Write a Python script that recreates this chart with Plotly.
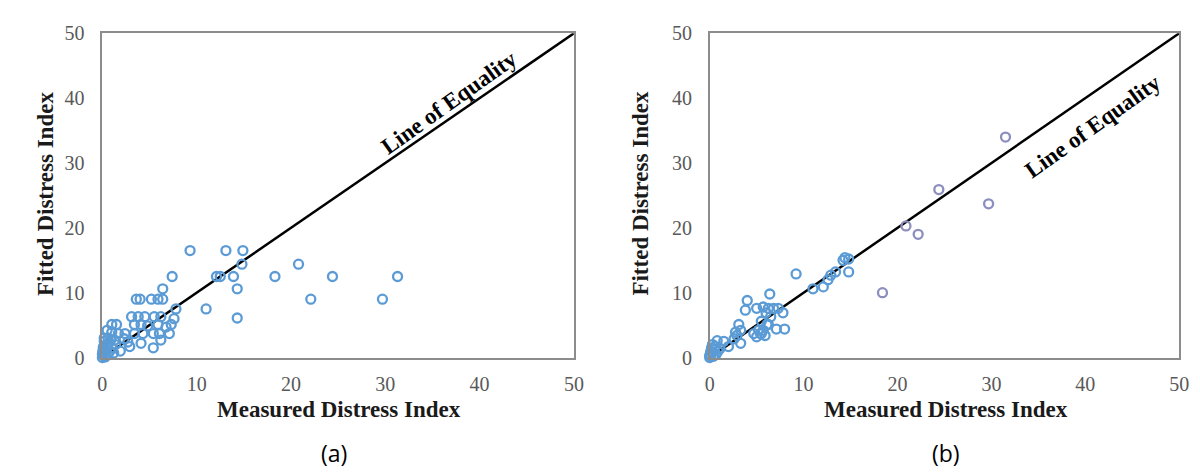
import plotly.graph_objects as go

# ---------------- data ----------------
# Panel (a)
a_measured = [9.3, 13.1, 14.9, 14.8, 20.8,
              7.4, 12.1, 12.5, 13.9, 18.3, 24.4, 31.3,
              14.3, 6.4, 22.1, 29.7, 11.0, 14.3,
              3.6, 4.0, 5.2, 5.9, 6.4, 7.8, 7.6,
              3.1, 3.8, 4.5, 5.5, 6.2,
              3.4, 4.1, 4.8, 5.9, 6.75, 7.3,
              2.4, 3.4, 4.3, 5.4, 6.05, 7.1,
              2.9, 4.1, 5.4, 6.2, 1.9,
              1.0, 1.5, 0.5, 1.0, 1.7, 0.6, 1.3, 2.3, 2.7,
              0.0, 0.1, 0.2, 0.3, 0.1, 0.4, 0.2, 0.6, 0.8, 1.0,
              0.5, 0.7, 1.2, 0.3, 0.0, 0.05, 1.4, 0.9, 0.2]
a_fitted = [16.5, 16.5, 16.5, 14.4, 14.4,
            12.5, 12.5, 12.5, 12.5, 12.5, 12.5, 12.5,
            10.6, 10.6, 9.0, 9.0, 7.5, 6.1,
            9.0, 9.0, 9.0, 9.0, 9.0, 7.5, 6.0,
            6.3, 6.3, 6.3, 6.3, 6.3,
            5.1, 5.1, 4.9, 5.1, 4.7, 5.1,
            3.7, 3.7, 3.7, 3.7, 3.7, 3.7,
            1.7, 2.2, 1.5, 2.7, 1.0,
            5.1, 5.1, 4.2, 3.9, 3.7, 3.0, 2.7, 2.9, 2.4,
            0.0, 0.3, 0.8, 1.2, 1.6, 2.0, 2.5, 0.5, 1.0, 1.5,
            1.8, 2.3, 0.7, 0.1, 0.5, 1.0, 2.0, 2.8, 3.0]

# Panel (b)
b_measured = [14.4, 14.8, 14.2, 14.8, 13.4, 12.9, 12.6, 12.1, 11.0,
              9.2, 6.4, 4.0, 3.8,
              5.0, 5.7, 6.25, 6.8, 7.3, 7.8, 6.0, 6.5,
              5.5, 6.1, 7.1, 7.98,
              3.1, 3.3, 2.9, 2.75, 2.6,
              4.7, 5.0, 5.4, 5.7, 5.2, 5.5, 5.9, 6.25,
              3.3, 0.8, 1.5, 0.3, 2.0,
              0.0, 0.1, 0.3, 0.5, 0.2, 0.7, 0.9, 0.4, 0.1, 1.1, 0.6, 0.0]
b_fitted = [15.4, 15.2, 15.0, 13.2, 13.2, 12.7, 12.0, 10.9, 10.6,
            12.9, 9.8, 8.8, 7.3,
            7.6, 7.8, 7.6, 7.6, 7.6, 6.9, 6.9, 6.3,
            5.6, 5.1, 4.4, 4.4,
            5.1, 4.2, 3.4, 3.9, 2.9,
            3.7, 3.2, 3.7, 4.2, 4.2, 3.7, 3.4, 5.1,
            2.2, 2.6, 2.5, 2.0, 1.7,
            0.0, 0.4, 0.8, 1.2, 1.5, 0.5, 1.0, 0.2, 0.9, 1.4, 1.7, 0.3]
b_out_measured = [31.5, 24.4, 29.7, 20.9, 22.2, 18.4]
b_out_fitted = [34.0, 25.9, 23.7, 20.3, 19.0, 10.0]

equality = [0, 50]
tick_vals = [0, 10, 20, 30, 40, 50]
tick_text = ["0", "10", "20", "30", "40", "50"]

x_title = "Measured Distress Index"
y_title = "Fitted Distress Index"
eq_label = "Line of Equality"
panel_labels = ["(a)", "(b)"]

# ---------------- figure ----------------
BLUE = "#5B9BD5"
GRAYBLUE = "#8C8EBE"
SERIF = "Liberation Serif, Times New Roman, serif"

fig = go.Figure()

def open_marker(color):
    return dict(symbol="circle-open", size=9, color=color, line=dict(width=2.3, color=color))

fig.add_trace(go.Scatter(x=equality, y=equality, mode="lines",
                         line=dict(color="black", width=2.5),
                         xaxis="x", yaxis="y", showlegend=False, hoverinfo="skip"))
fig.add_trace(go.Scatter(x=a_measured, y=a_fitted, mode="markers",
                         marker=open_marker(BLUE), cliponaxis=False,
                         xaxis="x", yaxis="y", showlegend=False))

fig.add_trace(go.Scatter(x=equality, y=equality, mode="lines",
                         line=dict(color="black", width=2.5),
                         xaxis="x2", yaxis="y2", showlegend=False, hoverinfo="skip"))
fig.add_trace(go.Scatter(x=b_measured, y=b_fitted, mode="markers",
                         marker=open_marker(BLUE), cliponaxis=False,
                         xaxis="x2", yaxis="y2", showlegend=False))
fig.add_trace(go.Scatter(x=b_out_measured, y=b_out_fitted, mode="markers",
                         marker=open_marker(GRAYBLUE), cliponaxis=False,
                         xaxis="x2", yaxis="y2", showlegend=False))

W, H = 1200, 475
ydom = [(H - 355) / H, (H - 15) / H]

axis_common = dict(range=[0, 50], tickvals=tick_vals, ticktext=tick_text,
                   showgrid=False, zeroline=False, showline=True, mirror=True,
                   linecolor="#8c8c8c", linewidth=1.5, ticks="",
                   tickfont=dict(family=SERIF, size=20, color="#595959"),
                   fixedrange=True)

fig.update_layout(
    width=W, height=H,
    margin=dict(l=0, r=0, t=0, b=0),
    paper_bgcolor="white", plot_bgcolor="white",
    xaxis=dict(domain=[90.5 / W, 568 / W], anchor="y", ticklabelstandoff=8, **axis_common),
    yaxis=dict(domain=ydom, anchor="x", ticklabelstandoff=12, **axis_common),
    xaxis2=dict(domain=[705.5 / W, 1181 / W], anchor="y2", ticklabelstandoff=8, **axis_common),
    yaxis2=dict(domain=ydom, anchor="x2", ticklabelstandoff=12, **axis_common),
)

ann = []
# axis titles
for cx in [330, 945]:
    ann.append(dict(text=f"<b>{x_title}</b>", x=cx / W, y=(H - 409) / H, xref="paper", yref="paper",
                    showarrow=False, xanchor="center", yanchor="middle",
                    font=dict(family=SERIF, size=23, color="#1a1a1a")))
for cx in [33, 635]:
    ann.append(dict(text=f"<b>{y_title}</b>", x=cx / W, y=(H - 183) / H, xref="paper", yref="paper",
                    showarrow=False, xanchor="center", yanchor="middle", textangle=-90,
                    font=dict(family=SERIF, size=23, color="#1a1a1a")))
# panel labels
for cx, lab in zip([325, 945], panel_labels):
    ann.append(dict(text=lab, x=cx / W, y=(H - 455) / H, xref="paper", yref="paper",
                    showarrow=False, xanchor="center", yanchor="middle",
                    font=dict(family="Open Sans, sans-serif", size=23, color="black")))
# line of equality labels
ann.append(dict(text=f"<b>{eq_label}</b>", x=36.8, y=39.3, xref="x", yref="y",
                showarrow=False, textangle=-35.5,
                font=dict(family=SERIF, size=23, color="black")))
ann.append(dict(text=f"<b>{eq_label}</b>", x=40.8, y=35.6, xref="x2", yref="y2",
                showarrow=False, textangle=-35.5,
                font=dict(family=SERIF, size=23, color="black")))
fig.update_layout(annotations=ann)

fig.write_html("out.html")
